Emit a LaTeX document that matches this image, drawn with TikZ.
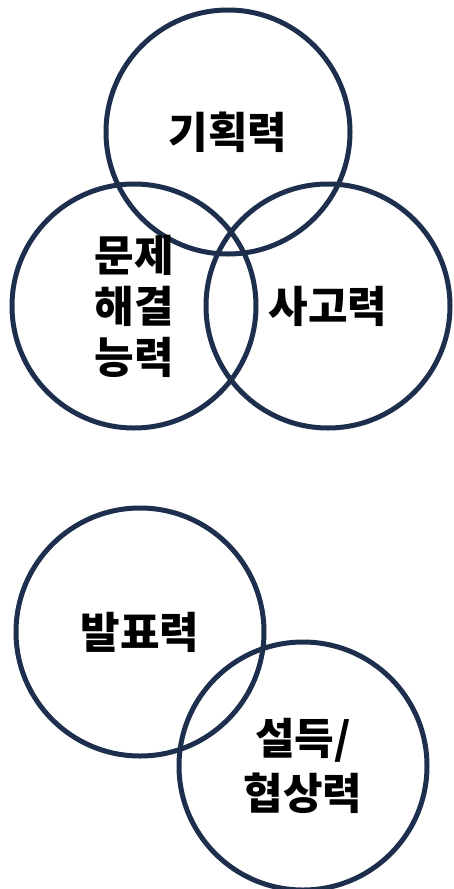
\documentclass[tikz,border=0pt]{standalone}
\usepackage{fontspec}
\newfontfamily\krfont{Noto Sans CJK KR}[BoldFont={Noto Sans CJK KR Black}]
\usepackage{tikz}
\definecolor{ringblue}{HTML}{1D2F4D}

\begin{document}
\begin{tikzpicture}[x=1pt,y=-1pt,inner sep=0pt,outer sep=0pt,
	ring/.style={circle,draw=ringblue,line width=5pt,minimum size=244pt,align=center,
		font=\krfont\bfseries\fontsize{43}{51}\selectfont}]
	\useasboundingbox (0,0) rectangle (454,889);
	% upper group
	\node[ring] (plan)    at (228,132) {기획력};
	\node[ring] (solve)   at (134,306) {문제\\해결\\능력};
	\node[ring] (think)   at (328,306) {사고력};
	% lower group
	\node[ring,minimum size=248pt] (present) at (140,632) {발표력};
	\node[ring,minimum size=248pt,font=\krfont\bfseries\fontsize{43}{55}\selectfont] (persuade) at (303,766) {설득/\\협상력};
\end{tikzpicture}
\end{document}
